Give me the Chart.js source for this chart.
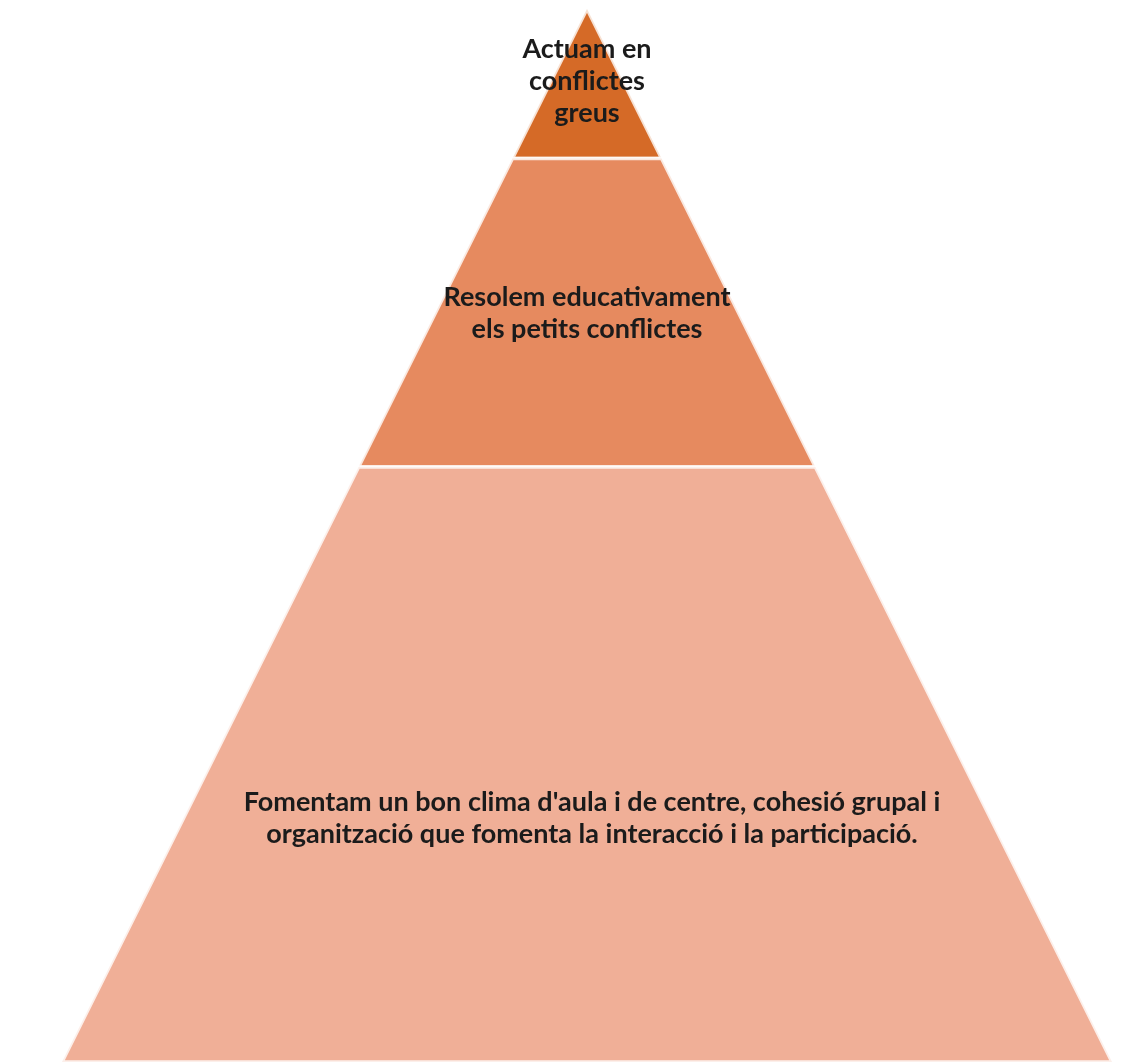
<!DOCTYPE html>
<html>
<head>
<meta charset="utf-8">
<script src="https://cdn.jsdelivr.net/npm/chart.js@4/dist/chart.umd.min.js"></script>
<style>
  html, body { margin: 0; padding: 0; background: #fff; }
  #wrap { width: 1134px; height: 1064px; position: relative; }
</style>
</head>
<body>
<div id="wrap"><canvas id="pyramid"></canvas></div>
<script>
// levels, bottom to top
const levelNames = [
  ["Fomentam un bon clima d'aula i de centre, cohesió grupal i", "organització que fomenta la interacció i la participació."],
  ["Resolem educativament", "els petits conflictes"],
  ["Actuam en", "conflictes", "greus"]
];
// where each level starts / ends (0 = base, 1 = apex)
const levelBounds = [0, 0.565, 0.858, 1];
const levelColors = ["#F0AF97", "#E68A5F", "#D56A27"];

// build a closed trapezoid for each level: half width shrinks linearly to 0 at the apex
function bandPoints(lo, hi) {
  return [
    { x: -(1 - lo), y: lo },
    { x: (1 - lo), y: lo },
    { x: (1 - hi), y: hi },
    { x: -(1 - hi), y: hi },
    { x: -(1 - lo), y: lo }
  ];
}

const datasets = levelNames.map((name, i) => ({
  label: name.join(' '),
  data: bandPoints(levelBounds[i], levelBounds[i + 1]),
  showLine: true,
  fill: 'shape',
  backgroundColor: levelColors[i],
  borderColor: 'rgba(255,255,255,0.8)',
  borderWidth: 3.5,
  pointRadius: 0,
  tension: 0
}));

// draw the level texts in the middle of each band
const labelPlugin = {
  id: 'levelLabels',
  afterDatasetsDraw(chart, args, opts) {
    const ctx = chart.ctx;
    const xs = chart.scales.x, ys = chart.scales.y;
    ctx.save();
    ctx.fillStyle = '#1b1b1b';
    ctx.textAlign = 'center';
    ctx.textBaseline = 'middle';
    ctx.font = "bold 27px Lato, 'Open Sans', sans-serif";
    levelNames.forEach((lines, i) => {
      const cy = ys.getPixelForValue(opts.centers[i]);
      const cx = xs.getPixelForValue(0) + opts.shift[i];
      const top = cy - (lines.length - 1) * opts.lineHeight / 2;
      lines.forEach((t, j) => ctx.fillText(t, cx, top + j * opts.lineHeight));
    });
    ctx.restore();
  }
};

new Chart('pyramid', {
  type: 'scatter',
  data: { datasets: datasets },
  options: {
    responsive: true,
    maintainAspectRatio: false,
    animation: false,
    layout: { padding: { left: 62, right: 22, top: 9, bottom: 2 } },
    scales: {
      x: { type: 'linear', min: -1, max: 1, display: false },
      y: { type: 'linear', min: 0, max: 1, display: false }
    },
    plugins: {
      legend: { display: false },
      tooltip: { enabled: false },
      levelLabels: { centers: [0.231, 0.711, 0.931], shift: [5, 0, 0], lineHeight: 32 }
    }
  },
  plugins: [labelPlugin]
});
</script>
</body>
</html>
